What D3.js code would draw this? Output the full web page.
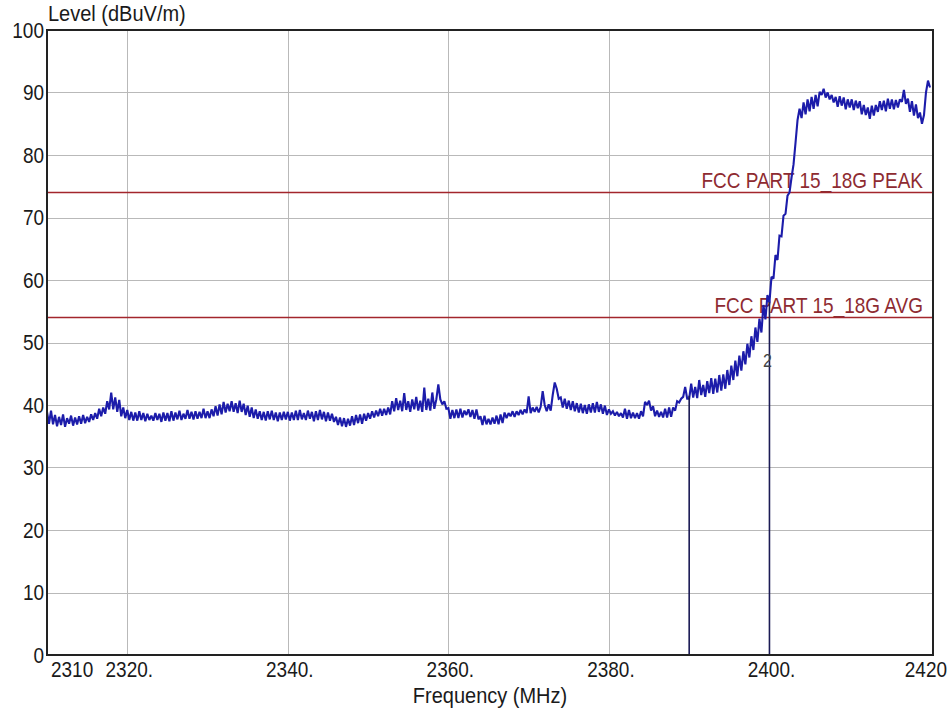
<!DOCTYPE html>
<html>
<head>
<meta charset="utf-8">
<script src="https://cdn.jsdelivr.net/npm/d3@7/dist/d3.min.js"></script>
<style>
  html, body { margin: 0; padding: 0; background: #ffffff; }
  svg { display: block; font-family: "Liberation Sans", Arial, sans-serif; }
</style>
</head>
<body>
<svg id="chart" width="952" height="711"></svg>
<script>
// ---- data ----
const sweepStart = 2310;      // MHz
const sweepStep = 0.25;       // MHz between trace points
const level = [
  38.9,37.0,39.1,36.9, 38.4,36.6,38.1,36.8, 38.5,36.5,37.9,37.0, 38.3,36.7,38.0,36.9, 38.2,37.0,38.4,37.1,
  38.1,37.3,38.5,37.6, 38.7,37.8,39.4,38.2, 39.6,38.6,40.6,39.3, 42.0,39.3,41.2,38.9, 40.8,38.2,39.6,37.9,
  39.2,37.6,38.9,37.5, 38.8,37.5,39.0,37.6, 38.7,37.4,38.6,37.6, 38.3,37.5,38.7,37.6, 38.6,37.3,38.8,37.5,
  38.7,37.4,39.0,37.5, 38.8,37.7,39.1,37.6, 38.6,37.8,39.2,37.8, 38.9,37.7,39.0,37.8, 38.9,37.9,39.4,37.9,
  39.0,37.9,39.3,38.2, 39.8,38.3,40.1,38.5, 40.5,38.8,40.2,39.0, 40.6,38.9,40.3,38.7, 40.7,38.9,40.2,38.4,
  39.9,38.1,39.6,37.9, 39.3,37.8,39.0,37.6, 38.9,37.5,39.0,37.7, 39.1,37.6,38.8,37.4, 38.8,37.6,38.9,37.7,
  38.9,37.5,38.8,37.6, 39.1,37.6,39.2,37.7, 38.7,37.6,39.1,37.8, 38.9,37.4,39.0,37.6, 39.2,37.7,38.9,37.4,
  38.8,37.5,38.6,37.3, 38.1,36.8,38.0,36.6, 37.9,36.5,37.8,36.7, 38.2,36.8,38.4,37.1, 38.5,37.0,38.6,37.5,
  38.7,37.8,39.0,38.0, 39.1,38.2,39.4,38.3, 39.4,38.4,39.6,38.5, 40.6,39.0,41.1,39.2, 40.7,39.0,41.9,39.2,
  40.6,38.9,40.9,39.3, 41.3,39.1,40.7,38.9, 42.8,39.2,41.0,39.1, 42.0,39.4,40.9,43.3, 40.9,40.1,40.6,39.4,
  39.5,37.8,39.2,37.9, 39.3,37.9,39.4,38.0, 39.1,38.4,39.3,38.1, 39.2,37.8,39.3,37.7, 38.2,36.8,38.3,36.9,
  37.8,36.9,38.0,37.0, 38.3,36.9,38.5,37.1, 38.8,37.9,38.7,38.2, 39.0,38.1,39.0,38.4, 39.2,38.5,39.3,38.7,
  41.4,38.7,39.6,38.9, 39.7,38.8,39.7,42.2, 40.0,39.0,40.1,39.1, 41.6,43.6,42.6,41.0, 41.2,39.6,41.0,39.4,
  40.7,39.2,40.6,39.0, 40.3,38.8,40.2,38.7, 40.0,38.6,40.1,38.8, 40.3,38.8,40.5,38.9, 40.1,38.6,39.9,38.4,
  39.3,38.6,39.0,38.3, 38.9,38.2,38.7,38.0, 39.4,37.8,39.2,37.9, 38.8,37.9,38.7,37.8, 39.0,38.2,40.5,40.0,
  40.7,39.1,39.8,38.2, 39.1,38.1,38.9,38.0, 39.4,38.0,39.6,38.1, 39.6,39.1,40.6,40.4, 41.0,41.3,42.9,41.0,
  41.0,43.4,41.2,42.9, 41.1,44.0,41.6,43.2, 41.3,43.8,41.9,44.3, 41.8,44.2,42.0,44.8, 42.3,44.9,42.6,45.6,
  43.2,46.3,44.0,47.1, 44.6,47.9,45.5,48.6, 46.5,49.8,47.6,51.0, 48.8,52.4,50.1,53.8, 51.6,56.0,53.7,57.6,
  56.4,60.5,60.2,64.0, 63.2,67.1,67.0,70.3, 70.6,73.5,74.0,76.4, 78.5,82.0,85.6,87.4, 85.9,88.4,86.5,88.9,
  87.0,89.3,87.4,89.6, 87.8,90.1,89.6,90.6, 89.2,90.0,88.9,89.6, 88.4,89.3,87.7,89.4, 87.9,89.2,87.3,88.9,
  87.6,88.9,87.2,88.7, 87.5,88.6,86.5,88.0, 86.4,87.6,85.8,87.9, 86.3,88.0,86.9,88.6, 87.2,88.7,87.0,89.0,
  87.4,88.9,87.3,88.8, 87.6,88.9,88.5,90.4, 88.2,89.0,86.9,88.6, 86.3,88.1,85.9,86.8, 85.0,86.4,90.0,91.9,
  90.8
];
const xTickValues = [2310, 2320, 2340, 2360, 2380, 2400, 2420];
const xTickLabels = ["2310", "2320.", "2340.", "2360.", "2380.", "2400.", "2420"];
const xGridValues = [2320, 2340, 2360, 2380, 2400];
const yTickValues = [0, 10, 20, 30, 40, 50, 60, 70, 80, 90, 100];
const limitNames = ["FCC PART 15_18G PEAK", "FCC PART 15_18G AVG"];
const limitValues = [74, 54];
const markerNames = ["1", "2"];
const markerFreqs = [2390, 2400];
const markerLevels = [41.5, 56.5];
const xTitle = "Frequency (MHz)";
const yTitle = "Level (dBuV/m)";

// ---- layout ----
const plotL = 47, plotR = 933, plotT = 30, plotB = 655;
const stretch = 1.12;   // text looks slightly tall in the reference
const svg = d3.select("#chart");

const x = d3.scaleLinear().domain([2310, 2420]).range([plotL, 930]);
const y = d3.scaleLinear().domain([0, 100]).range([plotB, plotT]);

const trace = level.map((v, i) => ({ f: sweepStart + i * sweepStep, v }));

function tallText(sel, px, py) {
  return sel.attr("transform", (d, i) => `translate(${px(d, i)},${py(d, i)}) scale(1,${stretch})`);
}

// grid
const grid = svg.append("g").attr("stroke", "#b9b9b9").attr("stroke-width", 1);
grid.selectAll("line.h").data(yTickValues.filter(v => v > 0 && v < 100)).join("line")
  .attr("x1", plotL).attr("x2", plotR)
  .attr("y1", d => Math.round(y(d)) + 0.5).attr("y2", d => Math.round(y(d)) + 0.5);
grid.selectAll("line.v").data(xGridValues).join("line")
  .attr("y1", plotT).attr("y2", plotB)
  .attr("x1", d => Math.round(x(d)) + 0.5).attr("x2", d => Math.round(x(d)) + 0.5);

// limit lines
const limG = svg.append("g");
limG.selectAll("line").data(limitValues).join("line")
  .attr("x1", plotL).attr("x2", plotR)
  .attr("y1", d => y(d)).attr("y2", d => y(d))
  .attr("stroke", "#a3262c").attr("stroke-width", 1.6);
tallText(limG.selectAll("text").data(limitNames).join("text"),
    () => 923, (d, i) => y(limitValues[i]) - 5)
  .attr("text-anchor", "end")
  .attr("font-size", 19)
  .attr("fill", "#8e2b31")
  .text(d => d);

// trace
const line = d3.line().x(d => x(d.f)).y(d => y(d.v));
svg.append("path").datum(trace)
  .attr("d", line)
  .attr("fill", "none")
  .attr("stroke", "#1c1caa")
  .attr("stroke-width", 2.1)
  .attr("stroke-linejoin", "miter")
  .attr("stroke-miterlimit", 2);

// markers
const mk = svg.append("g");
mk.selectAll("line").data(markerFreqs).join("line")
  .attr("x1", d => x(d)).attr("x2", d => x(d))
  .attr("y1", y(0)).attr("y2", (d, i) => y(markerLevels[i]))
  .attr("stroke", "#1b1b55").attr("stroke-width", 1.6);
tallText(mk.append("text").datum(markerNames[1]),
    () => x(markerFreqs[1]) - 2, () => y(markerLevels[1]) + 65)
  .attr("text-anchor", "middle")
  .attr("font-size", 16)
  .attr("fill", "#444")
  .text(d => d);

// frame
svg.append("rect")
  .attr("x", plotL).attr("y", plotT)
  .attr("width", plotR - plotL).attr("height", plotB - plotT)
  .attr("fill", "none").attr("stroke", "#222").attr("stroke-width", 2);

// y tick labels
tallText(svg.append("g").selectAll("text").data(yTickValues).join("text"),
    () => 44, d => y(d) + 7.5)
  .attr("text-anchor", "end")
  .attr("font-size", 19)
  .attr("fill", "#1a1a1a")
  .text(d => d);

// x tick labels
const last = xTickValues.length - 1;
tallText(svg.append("g").selectAll("text").data(xTickValues).join("text"),
    (d, i) => i === 0 ? x(d) + 4 : (i === last ? x(d) + 17 : x(d) + 2), () => 677)
  .attr("text-anchor", (d, i) => i === 0 ? "start" : (i === last ? "end" : "middle"))
  .attr("font-size", 19)
  .attr("fill", "#1a1a1a")
  .text((d, i) => xTickLabels[i]);

// axis titles
tallText(svg.append("text").datum(xTitle), () => (plotL + plotR) / 2, () => 703)
  .attr("text-anchor", "middle")
  .attr("font-size", 20)
  .attr("fill", "#1a1a1a")
  .text(d => d);
tallText(svg.append("text").datum(yTitle), () => 48, () => 21)
  .attr("font-size", 20)
  .attr("fill", "#1a1a1a")
  .text(d => d);
</script>
</body>
</html>
